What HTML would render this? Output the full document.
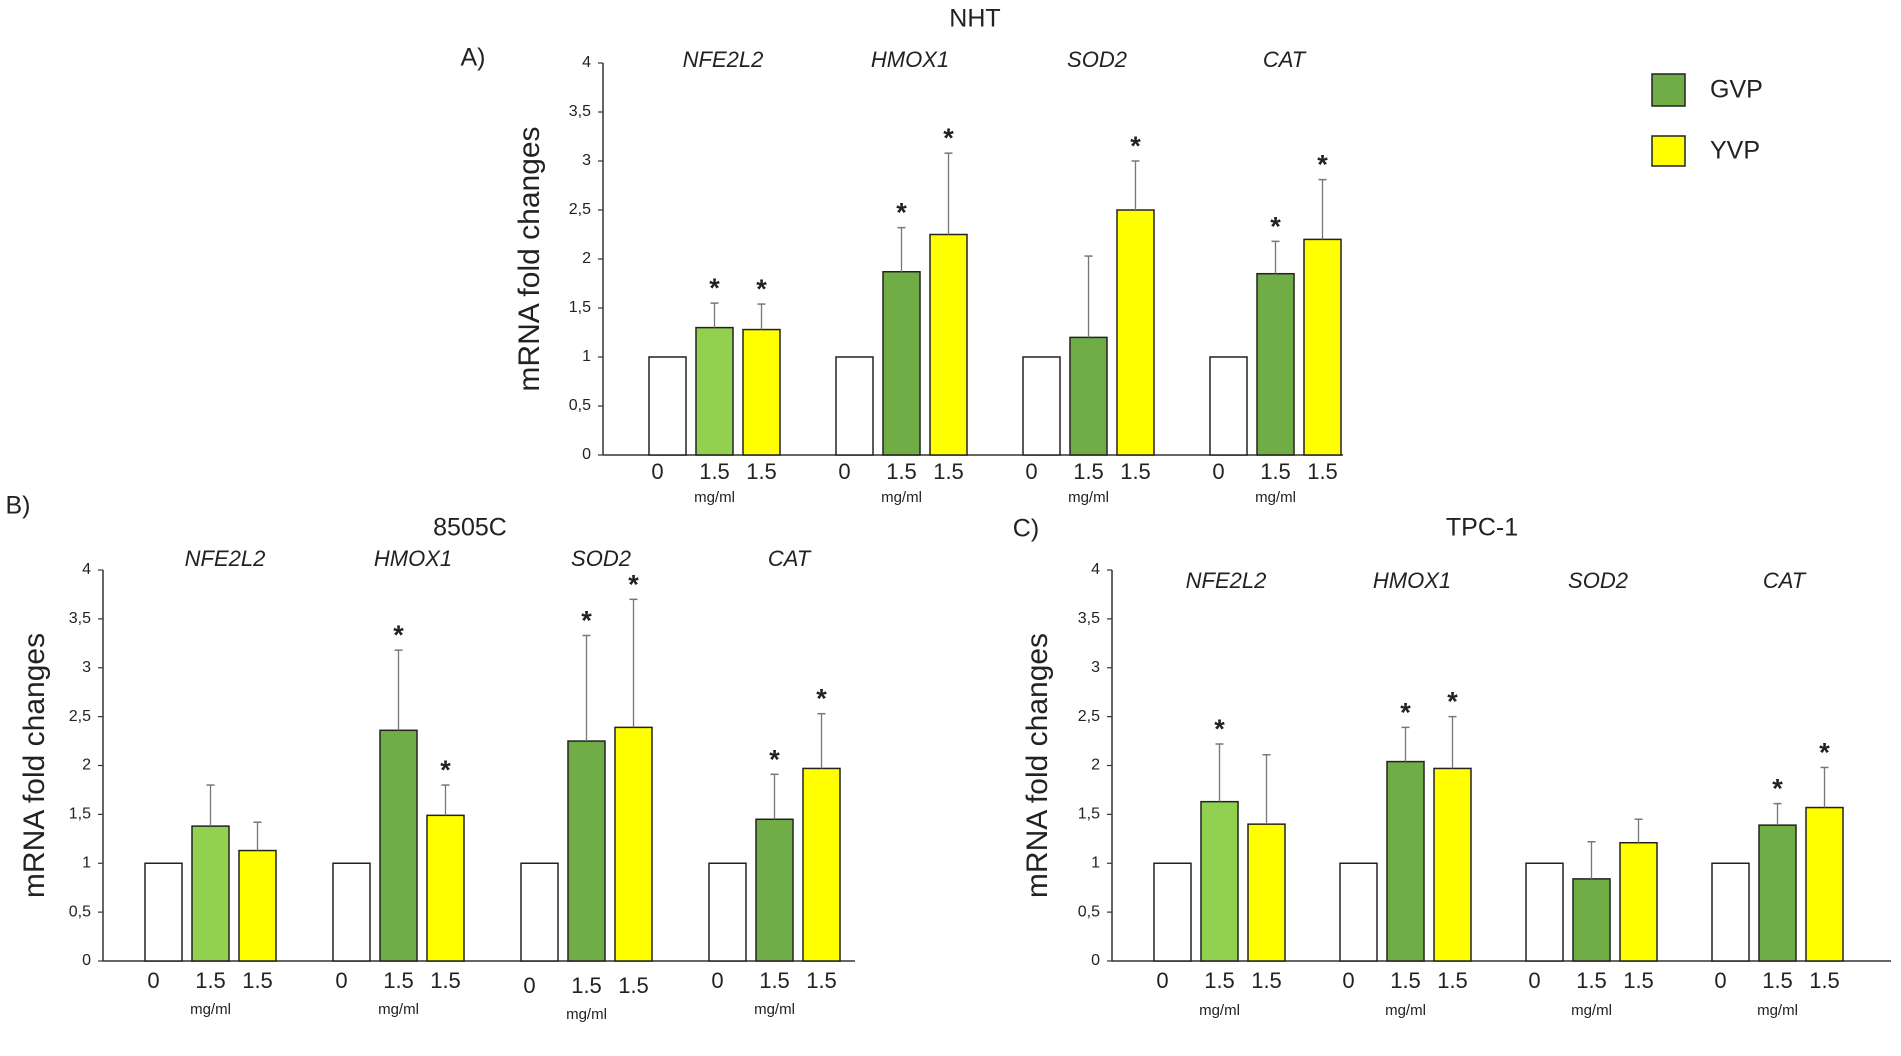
<!DOCTYPE html>
<html><head><meta charset="utf-8"><style>
body{margin:0;background:#fff;overflow:hidden;}
svg text{font-family:"Liberation Sans",sans-serif;fill:#222;}
</style></head><body>
<svg id="chart" width="1901" height="1051" viewBox="0 0 1901 1051" xmlns="http://www.w3.org/2000/svg">
<text x="975" y="20" font-size="25" text-anchor="middle" dominant-baseline="middle">NHT</text>
<text x="473" y="59" font-size="25" text-anchor="middle" dominant-baseline="middle">A)</text>
<text x="470" y="529" font-size="25" text-anchor="middle" dominant-baseline="middle">8505C</text>
<text x="18" y="507" font-size="25" text-anchor="middle" dominant-baseline="middle">B)</text>
<text x="1482" y="529" font-size="25" text-anchor="middle" dominant-baseline="middle">TPC-1</text>
<text x="1026" y="530" font-size="25" text-anchor="middle" dominant-baseline="middle">C)</text>
<g>
<rect x="1652" y="74" width="33" height="32" fill="#70ad47" stroke="#222" stroke-width="1.5"/>
<text x="1710" y="91" font-size="25" dominant-baseline="middle">GVP</text>
<rect x="1652" y="136" width="33" height="30" fill="#ffff00" stroke="#222" stroke-width="1.5"/>
<text x="1710" y="152" font-size="25" dominant-baseline="middle">YVP</text>
</g>
</svg>
<script>
const genes = ["NFE2L2","HMOX1","SOD2","CAT"];
const yTicks = [0,0.5,1,1.5,2,2.5,3,3.5,4];
const yTickLabels = ["0","0,5","1","1,5","2","2,5","3","3,5","4"];
const doseLabels = ["0","1.5","1.5"];
// Panel A (NHT)
const nhtControl = [1,1,1,1];
const nhtGVP = [1.30,1.87,1.20,1.85];
const nhtYVP = [1.28,2.25,2.50,2.20];
const nhtGVPErr = [1.55,2.32,2.03,2.18];
const nhtYVPErr = [1.54,3.08,3.00,2.81];
const nhtGVPStar = [1,1,0,1];
const nhtYVPStar = [1,1,1,1];
// Panel B (8505C)
const c8505Control = [1,1,1,1];
const c8505GVP = [1.38,2.36,2.25,1.45];
const c8505YVP = [1.13,1.49,2.39,1.97];
const c8505GVPErr = [1.80,3.18,3.33,1.91];
const c8505YVPErr = [1.42,1.80,3.70,2.53];
const c8505GVPStar = [0,1,1,1];
const c8505YVPStar = [0,1,1,1];
// Panel C (TPC-1)
const tpcControl = [1,1,1,1];
const tpcGVP = [1.63,2.04,0.84,1.39];
const tpcYVP = [1.40,1.97,1.21,1.57];
const tpcGVPErr = [2.22,2.39,1.22,1.61];
const tpcYVPErr = [2.11,2.50,1.45,1.98];
const tpcGVPStar = [1,1,0,1];
const tpcYVPStar = [0,1,0,1];

const NS="http://www.w3.org/2000/svg";
const svg=document.getElementById('chart');
function mk(tag,attrs,parent){const e=document.createElementNS(NS,tag);for(const k in attrs)e.setAttribute(k,attrs[k]);(parent||svg).appendChild(e);return e;}

function panel(p){
  const g=mk('g',{});
  
  
  const y=v=>p.y0-(v/4)*(p.y0-p.y4);
  mk('line',{x1:p.ax,y1:p.y4,x2:p.ax,y2:p.y0,stroke:'#333','stroke-width':1.5},g);
  const xa=mk('line',{x1:p.ax,y1:p.y0,x2:p.xEnd,y2:p.y0,stroke:'#333','stroke-width':1.5},g);
  
  
  yTicks.forEach((t,i)=>{
    mk('line',{x1:p.ax-5,y1:y(t),x2:p.ax,y2:y(t),stroke:'#333','stroke-width':1.2},g);
    const tl=mk('text',{x:p.ax-12,y:y(t),'font-size':16,'text-anchor':'end','dominant-baseline':'middle',fill:'#444'},g);
    tl.textContent=yTickLabels[i];
    
    
  });
  const cy=(p.y0+p.y4)/2;
  const yt=mk('text',{x:p.ytX,y:cy,'font-size':30,'text-anchor':'middle','dominant-baseline':'middle',transform:`rotate(-90 ${p.ytX} ${cy})`,fill:'#111'},g);
  yt.textContent='mRNA fold changes';
  
  
  const series=[p.ctrl,p.gvp,p.yvp], errs=[null,p.gErr,p.yErr], stars=[null,p.gStar,p.yStar];
  genes.forEach((gn,gi)=>{
    const gx=p.x0+gi*p.gap;
    const lab=mk('text',{x:gx+p.labOff,y:p.geneY,'font-size':22,'font-style':'italic','text-anchor':'middle','dominant-baseline':'middle'},g);
    lab.textContent=gn;
    
    
    series.forEach((s,si)=>{
      const bx=gx+si*p.pitch, v=s[gi];
      let fill=si===0?'#fff':si===2?'#ffff00':(gi===0?'#92d050':'#70ad47');
      const r=mk('rect',{x:bx,y:y(v),width:p.bw,height:p.y0-y(v),fill:fill,stroke:'#222','stroke-width':1.5},g);
      
      
      if(errs[si]){
        const e=errs[si][gi], cx=bx+p.bw/2;
        mk('line',{x1:cx,y1:y(e),x2:cx,y2:y(v),stroke:'#777','stroke-width':1.3},g);
        mk('line',{x1:cx-4,y1:y(e),x2:cx+4,y2:y(e),stroke:'#777','stroke-width':1.5},g);
        if(stars[si][gi]){
          const st=mk('text',{x:cx,y:y(e)-6,'font-size':27,'font-weight':'bold','text-anchor':'middle',fill:'#111'},g);
          st.textContent='*';
          
          
        }
      }
      const dl=mk('text',{x:bx+p.bw/2+(si===0?-10:0),y:p.doseY+(gi===2&&p.id==='b'?5:0),'font-size':22,'text-anchor':'middle','dominant-baseline':'middle'},g);
      dl.textContent=doseLabels[si];
      
      
    });
    const mg=mk('text',{x:gx+p.pitch+p.bw/2,y:p.mgY+(gi===2&&p.id==='b'?5:0),'font-size':15,'text-anchor':'middle','dominant-baseline':'middle'},g);
    mg.textContent='mg/ml';
    
    
  });
}
panel({id:'a',ax:603,y0:455,y4:63,xEnd:1343,x0:649,gap:187,pitch:47,bw:37,labOff:74,ytX:531,geneY:61,doseY:473,mgY:498,
  ctrl:nhtControl,gvp:nhtGVP,yvp:nhtYVP,gErr:nhtGVPErr,yErr:nhtYVPErr,gStar:nhtGVPStar,yStar:nhtYVPStar});
panel({id:'b',ax:103,y0:961,y4:570,xEnd:855,x0:145,gap:188,pitch:47,bw:37,labOff:80,ytX:36,geneY:560,doseY:982,mgY:1010,
  ctrl:c8505Control,gvp:c8505GVP,yvp:c8505YVP,gErr:c8505GVPErr,yErr:c8505YVPErr,gStar:c8505GVPStar,yStar:c8505YVPStar});
panel({id:'c',ax:1112,y0:961,y4:570,xEnd:1891,x0:1154,gap:186,pitch:47,bw:37,labOff:72,ytX:1039,geneY:582,doseY:982,mgY:1011,
  ctrl:tpcControl,gvp:tpcGVP,yvp:tpcYVP,gErr:tpcGVPErr,yErr:tpcYVPErr,gStar:tpcGVPStar,yStar:tpcYVPStar});
</script>
</body></html>
